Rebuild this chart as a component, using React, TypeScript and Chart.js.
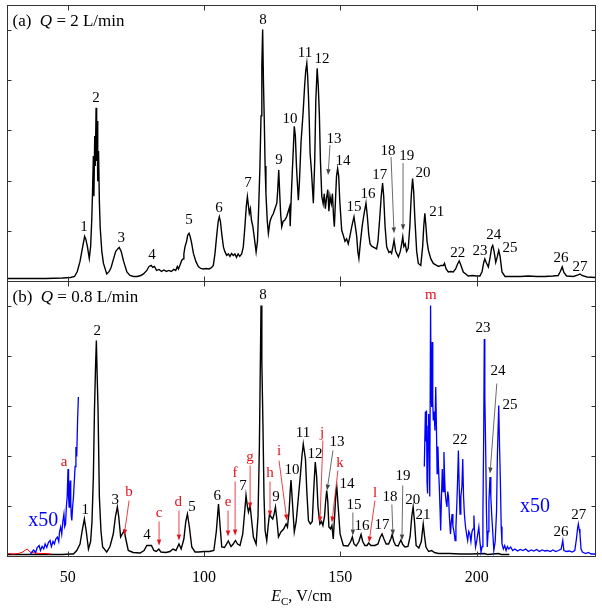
import React, { useEffect, useRef } from 'react';
import { Chart, registerables } from 'chart.js';
Chart.register(...registerables);

const FONT = "'Liberation Serif', 'Times New Roman', serif";
const xMin = 27.9;
const xMax = 243.6;
const yMax = 5.5;
const xTicks = [50, 100, 150, 200];
const yTicks = [1, 2, 3, 4, 5];

// Panel (a): Q = 2 L/min
const seriesA: [number, number][] = [
  [28, 0.06], [35, 0.06], [42, 0.06], [48, 0.07], [51, 0.08], [52.5, 0.1], [53.5, 0.2], [54.5, 0.4],
  [55.5, 0.7], [56.2, 0.9], [56.6, 0.85], [57.2, 0.7], [57.9, 0.46], [58.4, 0.7], [58.8, 1.22], [59.1, 1.8],
  [59.4, 2.5], [59.6, 1.7], [59.9, 2.9], [60.1, 2.3], [60.4, 3.46], [60.6, 2.4], [60.8, 3.2], [61.0, 2.0],
  [61.3, 2.6], [61.6, 1.6], [61.9, 1.08], [62.5, 0.6], [63.1, 0.36], [64.3, 0.15], [65.2, 0.2], [65.9, 0.28],
  [66.8, 0.45], [67.6, 0.6], [68.5, 0.66], [68.9, 0.68], [69.6, 0.6], [70.5, 0.4], [71.7, 0.19], [72.8, 0.12],
  [74.1, 0.1], [75.5, 0.1], [76.8, 0.12], [77.8, 0.15], [79, 0.22], [79.8, 0.3], [80.6, 0.32], [81.2, 0.28],
  [81.8, 0.3], [82.6, 0.22], [83.5, 0.24], [84.4, 0.2], [85.3, 0.23], [86.2, 0.2], [87.1, 0.22], [88, 0.2],
  [88.9, 0.24], [89.6, 0.22], [90.2, 0.3], [90.6, 0.25], [91.2, 0.33], [91.8, 0.42], [92.3, 0.45], [92.6, 0.55],
  [93, 0.69], [93.6, 0.8], [94, 0.92], [94.5, 0.96], [94.9, 0.9], [95.4, 0.78], [96.1, 0.56], [97, 0.4],
  [97.9, 0.3], [98.8, 0.26], [99.8, 0.25], [100.8, 0.26], [101.8, 0.25], [102.6, 0.27], [103.4, 0.32], [104.0, 0.55],
  [104.7, 0.95], [105.2, 1.2], [105.6, 1.29], [106.0, 1.2], [106.5, 0.95], [107.1, 0.69], [107.6, 0.6], [108.3, 0.52],
  [108.9, 0.55], [109.5, 0.5], [110.1, 0.56], [110.7, 0.52], [111.3, 0.55], [111.9, 0.48], [112.5, 0.55], [113.1, 0.5],
  [113.8, 0.55], [114.4, 0.69], [115.0, 1.1], [115.5, 1.5], [115.9, 1.69], [116.3, 1.5], [116.6, 1.36], [117.0, 1.45],
  [117.4, 1.22], [117.9, 1.1], [118.5, 0.85], [119.1, 0.59], [119.6, 0.8], [120.0, 1.4], [120.5, 2.29], [120.9, 3.3],
  [121.2, 4.3], [121.5, 5.02], [121.8, 3.96], [122.1, 3.2], [122.4, 2.3], [122.7, 1.76], [123.2, 1.2], [123.6, 0.96],
  [124.2, 1.2], [124.8, 1.29], [125.4, 1.35], [126.0, 1.45], [126.7, 1.56], [127.0, 1.8], [127.4, 2.22], [127.8, 1.7],
  [128.1, 1.35], [128.5, 1.09], [129.0, 1.2], [129.6, 1.22], [130.3, 1.29], [130.9, 1.4], [131.4, 1.49], [131.6, 1.1],
  [132.0, 1.7], [132.4, 2.22], [132.8, 2.7], [133.1, 3.09], [133.5, 2.9], [133.9, 2.3], [134.3, 1.9], [134.6, 1.62],
  [135.0, 2.0], [135.6, 2.8], [136.0, 3.1], [136.4, 3.42], [136.9, 3.9], [137.3, 4.2], [137.7, 4.35], [138.0, 4.1],
  [138.3, 3.7], [138.6, 3.2], [138.9, 2.56], [139.4, 2.2], [140.1, 1.56], [140.6, 2.4], [141.0, 3.6], [141.5, 4.25],
  [141.9, 3.9], [142.3, 3.33], [142.7, 2.4], [143.2, 1.69], [143.7, 1.55], [144.1, 1.75], [144.5, 1.45], [144.9, 1.65],
  [145.4, 1.83], [145.8, 1.4], [146.2, 1.7], [146.7, 1.55], [147.1, 1.75], [147.5, 1.3], [147.8, 1.09], [148.2, 1.6],
  [148.6, 2.1], [149.0, 2.25], [149.4, 2.1], [149.8, 1.6], [150.5, 1.02], [151.2, 0.9], [151.7, 0.8], [152.3, 0.85],
  [152.9, 0.75], [153.5, 0.9], [154.2, 1.1], [155.0, 1.29], [155.5, 1.1], [156.0, 0.9], [156.4, 0.6], [156.8, 0.46],
  [157.4, 0.8], [158.0, 1.1], [158.7, 1.35], [159.4, 1.56], [159.9, 1.3], [160.4, 0.95], [160.9, 0.75], [161.6, 0.7],
  [162.3, 0.68], [163.3, 0.65], [163.8, 0.8], [164.5, 1.3], [165.0, 1.7], [165.5, 1.96], [165.9, 1.7], [166.4, 1.1],
  [167.0, 0.69], [167.8, 0.58], [168.3, 0.6], [168.8, 0.56], [169.3, 0.7], [169.7, 0.82], [170.3, 0.6], [171.3, 0.49],
  [172.0, 0.6], [172.5, 0.75], [172.9, 0.89], [173.3, 0.7], [173.8, 0.75], [174.3, 0.6], [174.9, 0.66], [175.5, 1.1],
  [176.0, 1.7], [176.5, 2.05], [176.9, 1.8], [177.3, 1.29], [178.0, 0.6], [178.6, 0.36], [179.5, 0.32], [180.2, 0.7],
  [180.6, 1.1], [181.0, 1.36], [181.4, 1.1], [181.8, 0.8], [182.3, 0.62], [183.2, 0.45], [184.1, 0.36], [185.0, 0.33],
  [186.0, 0.3], [186.9, 0.32], [187.8, 0.32], [188.2, 0.36], [188.8, 0.25], [189.6, 0.19], [190.5, 0.2], [191.4, 0.19],
  [192.3, 0.25], [193.0, 0.35], [193.6, 0.41], [194.2, 0.33], [195.1, 0.19], [196.0, 0.15], [196.9, 0.11], [198.5, 0.12],
  [200.0, 0.11], [201.2, 0.11], [202.0, 0.2], [202.6, 0.38], [203.0, 0.45], [203.5, 0.38], [204.3, 0.29], [205.0, 0.5],
  [205.5, 0.68], [205.9, 0.72], [206.4, 0.6], [207.0, 0.38], [207.6, 0.5], [208.1, 0.62], [208.6, 0.5], [209.3, 0.19],
  [210.4, 0.1], [213, 0.1], [216, 0.1], [219, 0.11], [222, 0.1], [225, 0.1], [228, 0.11], [229.9, 0.12],
  [230.7, 0.2], [231.4, 0.29], [232.0, 0.18], [233.0, 0.11], [235.5, 0.1], [237.2, 0.13], [237.9, 0.15], [238.6, 0.12],
  [240.5, 0.09], [243.6, 0.08],
];

// Panel (b): Q = 0.8 L/min, direct signal
const seriesB: [number, number][] = [
  [28, 0.04], [40, 0.04], [48, 0.04], [51, 0.05], [52.1, 0.05], [53.3, 0.12], [54.5, 0.25], [55.4, 0.55],
  [56.1, 0.75], [56.8, 0.5], [57.6, 0.15], [58.4, 0.3], [58.9, 0.7], [59.4, 1.6], [59.8, 2.92], [60.2, 3.8],
  [60.5, 4.32], [60.8, 3.6], [61.1, 2.99], [61.6, 1.19], [62.2, 0.5], [62.8, 0.19], [64.3, 0.09], [65.5, 0.2],
  [66.7, 0.45], [67.5, 0.8], [68.2, 0.99], [68.7, 0.8], [69.4, 0.39], [70.0, 0.45], [70.7, 0.52], [71.3, 0.35],
  [72.2, 0.12], [74, 0.08], [76.5, 0.07], [78, 0.12], [79, 0.22], [80, 0.22], [80.7, 0.22], [81.6, 0.12],
  [82.5, 0.1], [83.4, 0.15], [84.2, 0.09], [86, 0.08], [87.5, 0.1], [88.6, 0.15], [89.7, 0.12], [90.8, 0.25],
  [91.6, 0.15], [92.6, 0.35], [93.3, 0.7], [93.9, 0.85], [94.6, 0.6], [95.5, 0.19], [96.7, 0.09], [98, 0.09],
  [100, 0.1], [102, 0.1], [103.6, 0.12], [104.5, 0.5], [105.3, 1.05], [105.9, 0.6], [106.5, 0.19], [107.5, 0.18],
  [108.9, 0.31], [109.9, 0.2], [110.7, 0.25], [111.5, 0.32], [112.3, 0.25], [113.2, 0.22], [114.2, 0.45], [115.0, 0.95],
  [115.4, 1.22], [115.9, 1.0], [116.3, 0.89], [116.9, 1.02], [117.5, 0.7], [118.1, 0.39], [119.1, 0.25], [119.8, 0.8],
  [120.3, 2.19], [120.6, 3.6], [120.9, 5.02], [121.2, 3.9], [121.6, 2.66], [122.0, 1.2], [122.4, 0.52], [123.0, 0.32],
  [123.5, 0.6], [124.0, 0.85], [124.6, 0.79], [125.2, 0.75], [125.7, 0.85], [126.2, 0.99], [126.7, 0.75], [127.3, 0.39],
  [128.2, 0.49], [129.2, 0.55], [130.1, 0.65], [130.6, 0.59], [131.2, 0.9], [131.6, 1.3], [131.9, 1.53], [132.4, 1.1],
  [133.1, 0.49], [133.8, 0.7], [134.5, 1.12], [135.3, 1.6], [135.9, 2.0], [136.4, 2.25], [136.8, 2.1], [137.2, 1.95],
  [137.7, 1.3], [138.3, 0.72], [139.0, 0.65], [139.7, 0.7], [140.2, 1.3], [140.8, 1.89], [141.3, 1.6], [141.8, 0.99],
  [142.5, 0.65], [143.1, 0.7], [143.6, 0.62], [144.2, 0.8], [144.6, 1.1], [145.0, 1.32], [145.4, 1.1], [145.8, 0.59],
  [146.4, 0.55], [146.9, 0.62], [147.4, 0.35], [148.0, 0.9], [148.4, 1.3], [148.7, 1.39], [149.2, 1.0], [149.9, 0.45],
  [151.1, 0.22], [152.8, 0.21], [153.8, 0.3], [154.4, 0.39], [155.0, 0.25], [155.8, 0.21], [156.8, 0.3], [157.6, 0.44],
  [158.2, 0.3], [159.0, 0.22], [159.8, 0.22], [160.4, 0.27], [161.2, 0.22], [162.7, 0.22], [163.8, 0.25], [164.6, 0.38],
  [165.3, 0.45], [166.0, 0.35], [166.8, 0.25], [167.7, 0.25], [168.5, 0.35], [169.0, 0.44], [169.6, 0.3], [170.3, 0.22],
  [171.2, 0.21], [172.2, 0.33], [172.9, 0.24], [173.7, 0.19], [174.8, 0.2], [175.6, 0.4], [176.2, 0.8], [176.7, 0.99],
  [177.2, 0.7], [177.8, 0.22], [178.8, 0.17], [179.7, 0.3], [180.1, 0.5], [180.4, 0.65], [180.8, 0.45], [181.4, 0.19],
  [182.4, 0.1], [183.5, 0.12], [184.5, 0.08], [186, 0.06], [190, 0.06], [194, 0.05], [198, 0.05], [202.8, 0.06],
  [204, 0.04], [208, 0.06], [209, 0.04], [212, 0.04],
];

// Panel (b): x50 magnified, low field side
const seriesB50Low: [number, number][] = [
  [36.3, 0.05], [37.0, 0.1], [37.5, 0.13], [38.2, 0.08], [38.8, 0.18], [39.5, 0.22], [40.0, 0.12], [40.6, 0.2],
  [41.2, 0.15], [41.7, 0.25], [42.3, 0.18], [42.9, 0.28], [43.5, 0.32], [44.0, 0.2], [44.6, 0.3], [45.1, 0.25],
  [45.6, 0.35], [46.2, 0.39], [46.7, 0.3], [47.0, 0.5], [47.4, 0.59], [47.8, 0.45], [48.2, 0.7], [48.6, 0.85],
  [48.9, 0.6], [49.2, 0.65], [49.5, 1.0], [49.8, 1.2], [50.1, 1.75], [50.3, 1.2], [50.5, 0.99], [50.7, 1.4],
  [50.9, 1.52], [51.1, 1.1], [51.3, 0.8], [51.5, 0.72], [51.8, 1.0], [52.1, 1.19], [52.4, 1.5], [52.7, 1.8],
  [53.0, 2.19], [53.3, 2.0], [53.6, 2.7], [53.9, 3.19],
];

// Panel (b): x50 magnified, high field side
const seriesB50High: [number, number][] = [
  [180.8, 1.8], [181.2, 2.9], [181.4, 2.3], [181.6, 2.92], [181.8, 1.5], [182.0, 1.26], [182.2, 2.6], [182.4, 2.85],
  [182.6, 2.2], [182.8, 1.2], [183.1, 5.02], [183.3, 3.2], [183.5, 2.99], [183.7, 4.29], [183.9, 3.1], [184.1, 2.72],
  [184.4, 2.9], [184.7, 2.52], [185.0, 3.39], [185.3, 2.4], [185.5, 1.66], [185.8, 2.2], [186.0, 1.79], [186.3, 1.4],
  [186.6, 0.9], [186.8, 0.52], [187.1, 1.2], [187.4, 1.75], [187.7, 1.3], [188.0, 2.09], [188.3, 1.5], [188.5, 1.26],
  [188.8, 1.1], [189.1, 0.99], [189.4, 1.3], [189.7, 1.19], [190.0, 0.8], [190.4, 0.45], [190.7, 0.7], [191.0, 0.85],
  [191.3, 0.6], [191.7, 0.5], [192.1, 0.32], [192.4, 0.6], [192.7, 1.0], [193.0, 1.5], [193.3, 2.12], [193.6, 1.4],
  [193.9, 0.85], [194.2, 1.2], [194.6, 1.4], [194.9, 1.95], [195.2, 1.2], [195.5, 0.85], [195.9, 0.6], [196.3, 0.45],
  [196.7, 0.32], [197.1, 0.5], [197.5, 0.45], [197.9, 0.3], [198.3, 0.5], [198.7, 0.55], [199.0, 0.82], [199.3, 0.4],
  [199.6, 0.19], [200.0, 0.3], [200.4, 0.45], [200.8, 0.59], [201.2, 0.3], [201.6, 0.09], [202.0, 0.2], [202.3, 0.85],
  [202.6, 2.5], [202.8, 4.35], [203.0, 3.2], [203.3, 2.19], [203.6, 0.9], [203.9, 0.19], [204.2, 0.5], [204.5, 1.1],
  [204.9, 1.59], [205.2, 1.2], [205.5, 0.85], [205.9, 0.5], [206.3, 0.12], [206.8, 0.3], [207.3, 0.9], [207.6, 1.99],
  [208.1, 3.02], [208.4, 2.2], [208.7, 1.52], [209.0, 0.6], [209.3, 0.25], [209.8, 0.15], [210.3, 0.22], [210.8, 0.12],
  [211.3, 0.2], [211.8, 0.15], [212.5, 0.19], [213.2, 0.12], [214, 0.15], [215, 0.11], [216, 0.14], [217, 0.12],
  [218, 0.15], [219, 0.1], [220, 0.13], [221, 0.11], [222, 0.14], [223, 0.1], [224, 0.13], [225, 0.11],
  [226, 0.12], [227, 0.1], [228, 0.13], [229, 0.1], [230, 0.12], [231, 0.15], [231.6, 0.32], [232.0, 0.12],
  [233, 0.1], [234, 0.11], [235, 0.09], [236, 0.12], [236.6, 0.35], [237.0, 0.55], [237.3, 0.65], [237.6, 0.55],
  [237.9, 0.45], [238.3, 0.15], [238.8, 0.09], [240, 0.06], [241, 0.08], [242, 0.05], [243.6, 0.05],
];

// Panel (b): red trace at the lowest fields
const seriesBRed: [number, number][] = [
  [28, 0.06], [30, 0.05], [32, 0.06], [33.5, 0.09], [34.5, 0.13], [35.2, 0.15], [35.8, 0.11], [36.5, 0.08],
  [38, 0.07], [40, 0.06], [42, 0.06], [44, 0.05],
];

type Lab = [string, number, number];
type Arr = [number, number, number, number];

const labelsA: Lab[] = [
  ['1', 56.0, 1.08], ['2', 60.4, 3.66], ['3', 69.6, 0.86], ['4', 80.9, 0.52], ['5', 94.5, 1.22],
  ['6', 105.5, 1.46], ['7', 116.1, 1.96], ['8', 121.6, 5.2], ['9', 127.5, 2.42], ['10', 131.5, 3.24],
  ['11', 137.0, 4.56], ['12', 143.3, 4.44], ['13', 147.7, 2.84], ['14', 151.0, 2.4], ['15', 155.0, 1.48],
  ['16', 160.1, 1.74], ['17', 164.5, 2.12], ['18', 167.5, 2.6], ['19', 174.4, 2.5], ['20', 180.3, 2.16],
  ['21', 185.4, 1.38], ['22', 193.1, 0.56], ['23', 201.2, 0.6], ['24', 206.3, 0.92], ['25', 212.2, 0.66],
  ['26', 230.9, 0.46], ['27', 237.9, 0.28],
];
const arrowsA: Arr[] = [
  [146.2, 2.72, 145.5, 2.12], [168.6, 2.48, 169.7, 0.96], [173.0, 2.36, 173.0, 1.02],
];

const labelsB: Lab[] = [
  ['1', 56.4, 0.92], ['2', 60.8, 4.5], ['3', 67.4, 1.12], ['4', 79.1, 0.42], ['5', 95.6, 0.98],
  ['6', 104.8, 1.2], ['7', 114.3, 1.4], ['8', 121.6, 5.22], ['9', 126.4, 1.18], ['10', 132.3, 1.72],
  ['11', 136.3, 2.46], ['12', 140.7, 2.04], ['13', 148.8, 2.28], ['14', 152.4, 1.44], ['15', 155.0, 1.02],
  ['16', 157.9, 0.6], ['17', 165.3, 0.62], ['18', 168.2, 1.18], ['19', 173.0, 1.6], ['20', 176.6, 1.12],
  ['21', 180.3, 0.82], ['22', 193.9, 2.32], ['23', 202.3, 4.56], ['24', 207.8, 3.7], ['25', 212.2, 3.02],
  ['26', 230.9, 0.48], ['27', 237.5, 0.82],
];
const arrowsB: Arr[] = [
  [147.3, 2.12, 145.1, 1.32], [154.6, 0.88, 154.6, 0.42], [168.9, 1.04, 169.3, 0.42],
  [172.9, 1.42, 172.6, 0.32], [207.4, 3.46, 204.9, 1.66],
];
const redLabelsB: Lab[] = [
  ['a', 48.7, 1.88], ['b', 72.5, 1.28], ['c', 83.5, 0.86], ['d', 90.5, 1.08], ['e', 108.8, 1.08],
  ['f', 111.4, 1.66], ['g', 116.9, 1.98], ['h', 124.2, 1.66], ['i', 127.5, 2.1], ['j', 143.3, 2.46],
  ['k', 149.9, 1.86], ['l', 162.7, 1.26], ['m', 183.2, 5.22],
];
const redArrowsB: Arr[] = [
  [72.5, 1.12, 70.7, 0.42], [83.5, 0.7, 83.5, 0.22], [90.8, 0.92, 90.8, 0.32], [108.8, 0.92, 108.8, 0.4],
  [111.4, 1.5, 111.4, 0.42], [116.9, 1.82, 116.9, 0.96], [124.2, 1.5, 124.2, 0.8], [127.5, 1.92, 130.4, 0.72],
  [143.6, 2.32, 142.5, 0.68], [149.1, 1.72, 146.9, 0.68], [162.7, 1.12, 160.5, 0.28],
];
const blueLabelsB: Lab[] = [['x50', 41.0, 0.72], ['x50', 221.4, 1.0]];

const titleA: [string, boolean][] = [['(a)  ', false], ['Q', true], [' = 2 L/min', false]];
const titleB: [string, boolean][] = [['(b)  ', false], ['Q', true], [' = 0.8 L/min', false]];

const RED = '#e3101c';
const BLUE = '#0000ff';

interface Deco {
  title: [string, boolean][];
  labels: Lab[];
  arrows: Arr[];
  redLabels: Lab[];
  redArrows: Arr[];
  blueLabels: Lab[];
  axisTitle: boolean;
}

function drawArrow(ctx: CanvasRenderingContext2D, x1: number, y1: number, x2: number, y2: number, color: string) {
  ctx.strokeStyle = color;
  ctx.fillStyle = color;
  ctx.lineWidth = 0.8;
  const ang = Math.atan2(y2 - y1, x2 - x1);
  const L = 6, W = 2.2;
  const bx = x2 - L * Math.cos(ang), by = y2 - L * Math.sin(ang);
  ctx.beginPath();
  ctx.moveTo(x1, y1);
  ctx.lineTo(bx, by);
  ctx.stroke();
  ctx.beginPath();
  ctx.moveTo(x2, y2);
  ctx.lineTo(bx + W * Math.sin(ang), by - W * Math.cos(ang));
  ctx.lineTo(bx - W * Math.sin(ang), by + W * Math.cos(ang));
  ctx.closePath();
  ctx.fill();
}

function overlay(deco: Deco) {
  return {
    id: 'overlay',
    afterDraw(chart: any) {
      const ctx: CanvasRenderingContext2D = chart.ctx;
      const a = chart.chartArea;
      const xs = chart.scales.x, ys = chart.scales.y;
      ctx.save();
      ctx.strokeStyle = '#333';
      ctx.lineWidth = 1;
      ctx.strokeRect(a.left, a.top, a.right - a.left, a.bottom - a.top);
      ctx.beginPath();
      for (const v of xTicks) {
        const px = Math.round(xs.getPixelForValue(v)) + 0.5;
        ctx.moveTo(px, a.bottom); ctx.lineTo(px, a.bottom - 5);
        ctx.moveTo(px, a.top); ctx.lineTo(px, a.top + 5);
      }
      for (const v of yTicks) {
        const py = Math.round(ys.getPixelForValue(v) - 0.5) + 0.5;
        ctx.moveTo(a.left, py); ctx.lineTo(a.left + 4, py);
        ctx.moveTo(a.right, py); ctx.lineTo(a.right - 4, py);
      }
      ctx.stroke();

      const put = (labs: Lab[], color: string, size: number) => {
        ctx.fillStyle = color;
        ctx.font = `${size}px ${FONT}`;
        ctx.textAlign = 'center';
        ctx.textBaseline = 'middle';
        for (const [t, x, y] of labs) ctx.fillText(t, xs.getPixelForValue(x), ys.getPixelForValue(y));
      };
      const arr = (list: Arr[], color: string) => {
        for (const [x1, y1, x2, y2] of list) {
          drawArrow(ctx, xs.getPixelForValue(x1), ys.getPixelForValue(y1), xs.getPixelForValue(x2), ys.getPixelForValue(y2), color);
        }
      };
      arr(deco.arrows, '#444');
      arr(deco.redArrows, RED);
      put(deco.labels, '#000', 15);
      put(deco.redLabels, RED, 15);
      put(deco.blueLabels, BLUE, 20);

      ctx.textAlign = 'left';
      ctx.textBaseline = 'middle';
      ctx.fillStyle = '#000';
      let tx = a.left + 5;
      const ty = a.top + 16.5;
      for (const [t, it] of deco.title) {
        ctx.font = `${it ? 'italic ' : ''}17px ${FONT}`;
        ctx.fillText(t, tx, ty);
        tx += ctx.measureText(t).width;
      }

      if (deco.axisTitle) {
        const parts: [string, string, number][] = [
          ['E', `italic 16px ${FONT}`, 0],
          ['C', `11px ${FONT}`, 4],
          [', V/cm', `16px ${FONT}`, 0],
        ];
        let total = 0;
        for (const [t, f] of parts) { ctx.font = f; total += ctx.measureText(t).width; }
        let x = (a.left + a.right) / 2 - total / 2;
        const y = a.bottom + 39.5;
        ctx.textBaseline = 'alphabetic';
        for (const [t, f, dy] of parts) {
          ctx.font = f;
          ctx.fillText(t, x, y + 5 + dy);
          x += ctx.measureText(t).width;
        }
      }
      ctx.restore();
    },
  };
}

function line(pts: [number, number][], color: string, width: number) {
  return {
    data: pts.map(([x, y]) => ({ x, y })),
    borderColor: color,
    borderWidth: width,
    pointRadius: 0,
    tension: 0,
    fill: false,
  };
}

export default function App() {
  const refA = useRef<HTMLCanvasElement>(null);
  const refB = useRef<HTMLCanvasElement>(null);

  useEffect(() => {
    const common = {
      responsive: false,
      animation: false as const,
      devicePixelRatio: 1,
      events: [] as any[],
      plugins: { legend: { display: false }, tooltip: { enabled: false } },
    };
    const chartA = new Chart(refA.current!, {
      type: 'line',
      data: { datasets: [line(seriesA, '#000', 1.4)] },
      options: {
        ...common,
        layout: { padding: { left: 7.5, right: 6.5, top: 5.5, bottom: 0.5 } },
        scales: {
          x: { type: 'linear', min: xMin, max: xMax, display: false },
          y: { type: 'linear', min: 0, max: yMax, display: false },
        },
      },
      plugins: [overlay({ title: titleA, labels: labelsA, arrows: arrowsA, redLabels: [], redArrows: [], blueLabels: [], axisTitle: false })],
    } as any);

    const chartB = new Chart(refB.current!, {
      type: 'line',
      data: {
        datasets: [
          line(seriesB50Low, BLUE, 1.3),
          line(seriesB50High, BLUE, 1.3),
          line(seriesBRed, '#ff0000', 1),
          line(seriesB, '#000', 1.4),
        ],
      },
      options: {
        ...common,
        layout: { padding: { left: 7.5, right: 6.5, top: 0.5, bottom: 0 } },
        scales: {
          x: {
            type: 'linear', min: xMin, max: xMax,
            afterBuildTicks: (s: any) => { s.ticks = xTicks.map((v) => ({ value: v })); },
            afterFit: (s: any) => { s.height = 55.5; },
            grid: { display: false, drawTicks: false },
            border: { display: false },
            ticks: { font: { family: FONT, size: 16 }, color: '#000', padding: 12, maxRotation: 0, autoSkip: false },
          },
          y: { type: 'linear', min: 0, max: yMax, display: false },
        },
      },
      plugins: [overlay({ title: titleB, labels: labelsB, arrows: arrowsB, redLabels: redLabelsB, redArrows: redArrowsB, blueLabels: blueLabelsB, axisTitle: true })],
    } as any);

    return () => { chartA.destroy(); chartB.destroy(); };
  }, []);

  return (
    <div style={{ position: 'absolute', left: 0, top: 0, width: 602, height: 612, background: '#fff' }}>
      <canvas ref={refA} width={602} height={282} style={{ position: 'absolute', left: 0, top: 0, width: 602, height: 282 }} />
      <canvas ref={refB} width={602} height={331} style={{ position: 'absolute', left: 0, top: 281, width: 602, height: 331 }} />
    </div>
  );
}
